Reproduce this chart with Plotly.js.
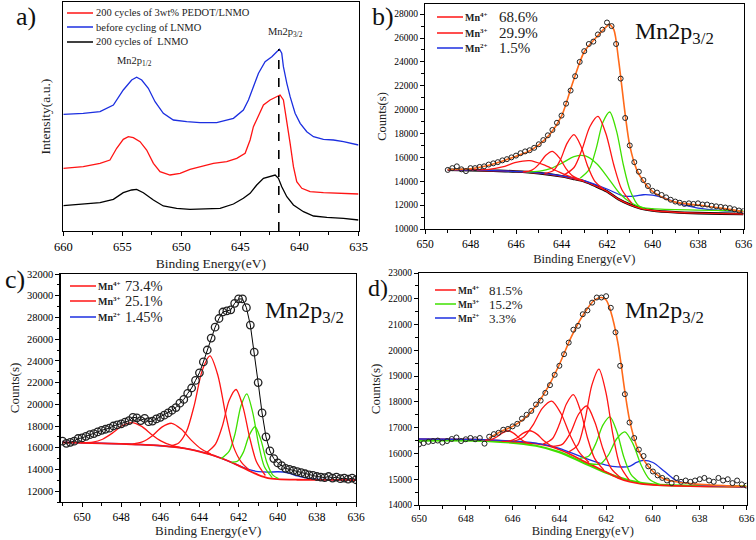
<!DOCTYPE html>
<html><head><meta charset="utf-8">
<script src="https://cdn.plot.ly/plotly-3.0.1.min.js"></script>
<style>body{margin:0;background:#fff}#chart{width:756px;height:540px}</style>
</head><body><div id="chart"></div>
<script>
// ---------- Panel a: survey of Mn2p region (arbitrary intensity) ----------
const aLegend = ["200 cycles of 3wt% PEDOT/LNMO", "before cycling of LNMO", "200 cycles of  LNMO"];
const aBlueE = [660,658.31,656.89,655.76,654.92,654.21,653.79,653.36,652.80,652.23,651.53,650.68,649.55,648.42,647.01,645.59,644.75,644.32,643.90,643.47,642.91,642.34,641.92,641.69,641.50,641.36,641.07,640.79,640.37,639.94,639.38,638.81,637.97,637.12,636.27,635.71,635.0];
const aBlueI = [115.7,116.7,118.3,125,140,150,152.7,150,141.7,128.3,116.7,110,108.3,107.3,107.3,111.7,120,130,143.3,156.7,168.3,173.3,178.3,180.7,176.7,163.3,146.7,133.3,116.7,106.7,98.3,93.3,90.7,90,88.3,86.7,85];
const aRedE = [660,658.31,656.89,656.05,655.48,654.92,654.49,654.07,653.50,652.94,652.37,651.81,650.96,650.11,649.27,648.42,647.29,646.16,645.31,644.60,644.18,643.90,643.47,643.05,642.49,641.92,641.64,641.36,641.07,640.79,640.51,640.23,639.80,639.10,637.97,636.84,635.99,635.0];
const aRedI = [61.7,63.3,66.7,70,81.7,90.7,93.3,92.3,88.3,80,66.7,58.3,55,56.7,60.7,63.3,66.7,68.3,71.7,76.7,90,103.3,115,125,130,133.3,135,130,110,86.7,63.3,48.3,41.7,38.3,37.3,36.7,36,36];
const aBlackE = [660,658.31,656.89,655.76,654.92,654.21,653.79,653.22,652.37,651.53,650.40,649.27,647.85,646.72,645.59,644.75,644.18,643.62,643.05,642.49,642.06,641.78,641.50,641.07,640.51,639.66,638.81,637.68,636.27,635.0];
const aBlackI = [24.3,26,27.3,30.7,37.3,40,40.7,37.3,30,24,21.7,20.7,21,21.7,26,31.7,36.7,45,51.7,54,55,51.7,43.3,33.3,25,18.3,14,12.7,11.7,10];
const aMarkerE = 641.75, aMarkerTop = 181;
const aPeakLabels = [{t:"Mn2p<sub>1/2</sub>", e:654.0, i:160}, {t:"Mn2p<sub>3/2</sub>", e:641.2, i:189}];

// ---------- Panel b ----------
const bLabels = ["Mn<sup>4+</sup>", "Mn<sup>3+</sup>", "Mn<sup>2+</sup>"];
const bPct = ["68.6%", "29.9%", "1.5%"];
const bEnergy = [649.0,648.8,648.6,648.4,648.2,648.0,647.8,647.6,647.4,647.2,647.0,646.8,646.6,646.4,646.2,646.0,645.8,645.6,645.4,645.2,645.0,644.8,644.6,644.4,644.2,644.0,643.8,643.6,643.4,643.2,643.0,642.8,642.6,642.4,642.2,642.0,641.8,641.6,641.4,641.2,641.0,640.8,640.6,640.4,640.2,640.0,639.8,639.6,639.4,639.2,639.0,638.8,638.6,638.4,638.2,638.0,637.8,637.6,637.4,637.2,637.0,636.8,636.6,636.4,636.2,636.0];
const bCounts = [14950,15100,15250,15000,14850,15100,15100,15200,15250,15400,15500,15600,15750,15850,16000,16150,16350,16500,16600,16800,17100,17450,17850,18300,18900,19500,20500,21600,22800,24000,24900,25500,25700,26300,26700,27300,27000,25500,22600,19300,17000,15600,14800,14100,13600,13200,13050,12850,12650,12450,12300,12200,12100,12150,12100,12150,12050,12050,11950,11900,11850,11800,11750,11650,11550,11500];
const bFitE = [649,648,647,646,645.5,645,644.5,644,643.5,643,642.5,642,641.9,641.7,641.5,641.2,641,640.7,640.4,640,639.5,639,638,637,636];
const bFitC = [14980,15050,15450,16100,16450,17050,17950,19450,22300,24850,26000,27000,27150,26700,24300,19600,17000,15000,14000,13150,12600,12250,12000,11750,11450];
const bBgE = [649,648,647,646,645,644,643.5,643,642.5,642,641.5,641,640.5,640,639,638,637,636];
const bBgC = [14970,14930,14880,14820,14680,14420,14220,13990,13600,13150,12500,12050,11720,11550,11400,11330,11290,11260];
const bMn2E = [649,647,645,644,643,642,641.3,640.8,640.4,640,639.5,639,638.5,638,637,636];
const bMn2C = [14970,14890,14700,14450,14050,13350,12780,12750,12870,12830,12600,12250,11950,11750,11550,11450];
const bRed1E = [648,647.2,646.6,646.0,645.4,644.8,644.2,643.6,643.0];
const bRed1C = [14960,14995,15200,15580,15720,15385,14860,14365,14020];
const bRed2E = [645.7,645.3,645.0,644.7,644.4,644.1,643.8,643.5,643.1];
const bRed2C = [14780,14930,15410,16150,16500,15975,15060,14430,14060];
const bRed3E = [644.75,644.35,644.05,643.75,643.45,643.15,642.85,642.55,642.15];
const bRed3C = [14650,14900,15790,17200,17900,16960,15260,14040,13330];
const bRed4E = [643.9,643.45,643.1,642.75,642.4,642.05,641.7,641.35,640.9];
const bRed4C = [14510,15150,16650,18590,19430,18000,15360,13310,12140];
const bGrn1E = [645.55,644.95,644.45,643.95,643.45,642.95,642.45,641.95,641.45,640.95,640.35];
const bGrn1C = [14790,14855,15080,15550,16060,16120,15460,14270,13000,12200,11730];
const bGrn2E = [643.18,642.78,642.48,642.18,641.88,641.58,641.28,640.98,640.58,640,638,636];
const bGrn2C = [14250,14990,16710,18940,19800,18200,15360,13210,11900,11700,11580,11520];

// ---------- Panel c ----------
const cPct = ["73.4%", "25.1%", "1.45%"];
const cEnergy = [651.0,650.8,650.6,650.4,650.2,650.0,649.8,649.6,649.4,649.2,649.0,648.8,648.6,648.4,648.2,648.0,647.8,647.6,647.4,647.2,647.0,646.8,646.6,646.4,646.2,646.0,645.8,645.6,645.4,645.2,645.0,644.8,644.6,644.4,644.2,644.0,643.8,643.6,643.4,643.2,643.0,642.8,642.6,642.4,642.2,642.0,641.8,641.6,641.4,641.2,641.0,640.8,640.6,640.4,640.2,640.0,639.8,639.6,639.4,639.2,639.0,638.8,638.6,638.4,638.2,638.0,637.8,637.6,637.4,637.2,637.0,636.8,636.6,636.4,636.2,636.0];
const cCounts = [16600,16400,16500,16600,16850,16900,17050,17200,17300,17450,17600,17700,17800,18000,18100,18200,18350,18500,18800,18750,18500,18700,18400,18450,18650,18800,19000,19200,19450,19700,20100,20450,21000,21500,22200,22900,23900,25000,26100,27100,27900,28500,28600,28700,29300,29700,29700,28900,27300,24800,22000,19200,17000,15700,15000,14600,14350,14100,14000,13900,13800,13700,13600,13500,13450,13350,13300,13250,13350,13200,13300,13150,13200,13100,13200,13050];
const cBgE = [651,650,649,648,647,646,645,644.5,644,643.5,643,642.5,642,641.5,641,640.5,640,639,638,637,636];
const cBgC = [16480,16450,16400,16350,16280,16200,16000,15850,15650,15400,15100,14750,14350,13900,13500,13200,13100,13050,13040,13030,13020];
const cMn2E = [651,649,647,645,644,643,642,641.5,641,640.5,640,639.5,639,638.5,638,637,636];
const cMn2C = [16500,16410,16290,16010,15660,15110,14360,14000,13800,13750,13780,13700,13400,13200,13100,13050,13030];
const cRed1E = [650.05,649.45,648.95,648.45,647.95,647.45,646.95,646.45,645.95,645.45,644.85];
const cRed1C = [16470,16510,16780,17345,18020,18320,17960,17225,16610,16230,15970];
const cRed2E = [647.42,646.92,646.42,645.92,645.42,644.92,644.42,643.92,643.42];
const cRed2C = [16340,16530,17080,17900,18250,17690,16700,15900,15410];
const cRed3E = [645.46,645.06,644.66,644.26,643.86,643.46,643.06,642.66,642.26,641.86,641.46];
const cRed3C = [16180,16440,17510,19950,23100,24450,22680,19070,16100,14670,13950];
const cRed4E = [643.63,643.18,642.83,642.48,642.13,641.78,641.43,641.08,640.63];
const cRed4C = [15550,16330,17990,20370,21360,19790,16910,14680,13440];
const cGrn1E = [642.88,642.48,642.18,641.88,641.58,641.28,640.98,640.68,640.28];
const cGrn1C = [15000,15680,17290,19840,20960,19260,16350,14250,13250];
const cGrn2E = [642.36,642.06,641.76,641.46,641.16,640.86,640.56,640.26,639.96];
const cGrn2C = [14670,14750,15570,17140,17930,16720,14660,13500,13150];

// ---------- Panel d ----------
const dPct = ["81.5%", "15.2%", "3.3%"];
const dEnergy = [650.0,649.8,649.6,649.4,649.2,649.0,648.8,648.6,648.4,648.2,648.0,647.8,647.6,647.4,647.2,647.0,646.8,646.6,646.4,646.2,646.0,645.8,645.6,645.4,645.2,645.0,644.8,644.6,644.4,644.2,644.0,643.8,643.6,643.4,643.2,643.0,642.8,642.6,642.4,642.2,642.0,641.8,641.6,641.4,641.2,641.0,640.8,640.6,640.4,640.2,640.0,639.8,639.6,639.4,639.2,639.0,638.8,638.6,638.4,638.2,638.0,637.8,637.6,637.4,637.2,637.0,636.8,636.6,636.4,636.2,636.0];
const dCounts = [16350,16400,16450,16480,16500,16420,16480,16560,16620,16480,16550,16600,16550,16600,16380,16650,16750,16800,16920,16950,17050,17150,17350,17500,17650,17900,18050,18350,18650,19050,19400,19850,20300,20800,20950,21400,21550,21850,22050,22050,22100,21650,20700,19400,18300,17200,16600,16150,15900,15500,15300,15150,15050,14950,14850,15050,14900,14950,14900,14950,15000,15050,14950,14900,15050,14950,15000,14850,14950,14800,14750];
const dFitE = [647,646.5,646,645.5,645,644.5,644,643.5,643,642.5,642.2,642,641.8,641.5,641.2,641,640.7,640.4,640,639.5,639,638,637,636];
const dFitC = [16600,16850,17050,17350,17850,18550,19450,20500,21350,21950,22050,21950,21500,20300,18400,17300,16300,15750,15300,15000,14900,14800,14750,14720];
const dBgE = [650,648,647,646,645,644.5,644,643.5,643,642.5,642,641.5,641,640.5,640,639,638,636];
const dBgC = [16560,16550,16520,16460,16380,16300,16150,15950,15720,15500,15280,15050,14900,14820,14780,14740,14720,14700];
const dGrnBgE = [650,647,645,644,643,642,641,640,638,636];
const dGrnBgC = [16500,16480,16300,16050,15650,15250,14950,14800,14740,14720];
const dMn2E = [650,647,645,644,643,642,641.5,641,640.7,640.4,640,639.5,639,638,636];
const dMn2C = [16560,16530,16400,16200,15850,15550,15480,15500,15650,15730,15650,15300,14950,14780,14700];
const dRed1E = [647.18,646.93,646.68,646.43,646.18,645.93,645.68,645.43,645.18];
const dRed1C = [16520,16540,16640,16800,16880,16770,16570,16430,16380];
const dRed2E = [646.46,646.16,645.86,645.56,645.26,644.96,644.66,644.36,644.06];
const dRed2C = [16470,16480,16580,16780,16880,16750,16490,16300,16175];
const dRed3E = [645.93,645.53,645.13,644.73,644.33,643.93,643.53,643.13,642.73];
const dRed3C = [16480,16640,17100,17750,18030,17550,16690,16020,15650];
const dRed4E = [644.7,644.3,644.0,643.7,643.4,643.1,642.8,642.5,642.1];
const dRed4C = [16360,16570,17130,17920,18280,17670,16610,15820,15360];
const dRed5E = [644.33,643.88,643.53,643.18,642.83,642.48,642.13,641.78,641.33];
const dRed5C = [16270,16350,16790,17520,17840,17210,16160,15410,15020];
const dRed6E = [643.61,643.21,642.91,642.61,642.31,642.01,641.71,641.41,641.01];
const dRed6C = [16050,16330,17270,18650,19270,18370,16730,15540,14960];
const dGrn1E = [643.14,642.74,642.44,642.14,641.84,641.54,641.24,640.94,640.54];
const dGrn1C = [15810,15900,16390,17100,17420,16840,15850,15190,14850];
const dGrn2E = [642.7,642.25,641.9,641.55,641.2,640.85,640.5,640.15,639.7];
const dGrn2C = [15600,15590,15940,16570,16840,16370,15540,15000,14790];

// ---------- styling ----------
const W = 756, H = 540;
const SERIF = "Liberation Serif";
const RED = "#ff1414", GRN = "#3fe000", BLU = "#1c2fe0", ORG = "#ff6a1a";
const px = v => v / W, py = v => 1 - v / H;

const traces = [];
function ln(x, y, color, w, ax, shape) {
  traces.push({type:"scatter", mode:"lines", x:x, y:y, xaxis:"x"+ax, yaxis:"y"+ax,
    line:{color:color, width:w, shape:shape||"spline", smoothing:0.8}, hoverinfo:"skip", showlegend:false});
}
function pts(x, y, ax, size, withLine) {
  traces.push({type:"scatter", mode: withLine ? "lines+markers" : "markers", x:x, y:y, xaxis:"x"+ax, yaxis:"y"+ax,
    line:{color:"#000", width:1}, marker:{symbol:"circle-open", size:size, color:"#222", line:{width:withLine?1.3:1, color:"#222"}},
    hoverinfo:"skip", showlegend:false});
}
// panel a
ln(aBlueE, aBlueI, BLU, 1.3, "", "linear");
ln(aRedE, aRedI, RED, 1.3, "", "linear");
ln(aBlackE, aBlackI, "#000", 1.3, "", "linear");
// panel b
ln(bBgE, bBgC, "#000", 2.6, "2");
ln(bBgE, bBgC, RED, 1.4, "2");
ln(bMn2E, bMn2C, BLU, 1.3, "2");
ln(bGrn1E, bGrn1C, GRN, 1.3, "2");
ln(bGrn2E, bGrn2C, GRN, 1.3, "2");
ln(bRed1E, bRed1C, RED, 1.3, "2");
ln(bRed2E, bRed2C, RED, 1.3, "2");
ln(bRed3E, bRed3C, RED, 1.3, "2");
ln(bRed4E, bRed4C, RED, 1.3, "2");
ln(bFitE, bFitC, ORG, 1.6, "2");
pts(bEnergy, bCounts, "2", 5, false);
// panel c
ln(cMn2E, cMn2C, BLU, 1.4, "3");
ln(cBgE, cBgC, RED, 1.8, "3");
ln(cGrn1E, cGrn1C, GRN, 1.3, "3");
ln(cGrn2E, cGrn2C, GRN, 1.3, "3");
ln(cRed1E, cRed1C, RED, 1.3, "3");
ln(cRed2E, cRed2C, RED, 1.3, "3");
ln(cRed3E, cRed3C, RED, 1.3, "3");
ln(cRed4E, cRed4C, RED, 1.3, "3");
pts(cEnergy, cCounts, "3", 7.5, true);
// panel d
ln(dGrnBgE, dGrnBgC, GRN, 2.2, "4");
ln(dBgE, dBgC, RED, 1.6, "4");
ln(dMn2E, dMn2C, BLU, 1.3, "4");
ln(dGrn1E, dGrn1C, GRN, 1.3, "4");
ln(dGrn2E, dGrn2C, GRN, 1.3, "4");
ln(dRed1E, dRed1C, RED, 1.3, "4");
ln(dRed2E, dRed2C, RED, 1.3, "4");
ln(dRed3E, dRed3C, RED, 1.3, "4");
ln(dRed4E, dRed4C, RED, 1.3, "4");
ln(dRed5E, dRed5C, RED, 1.3, "4");
ln(dRed6E, dRed6C, RED, 1.3, "4");
ln(dFitE, dFitC, ORG, 1.6, "4");
pts(dEnergy, dCounts, "4", 5, false);

function xAxis(dom, range, dtick, minor, anchor, fs, tfs, standoff) {
  return {domain:[px(dom[0]), px(dom[1])], range:range, autorange:false, anchor:anchor,
    tickmode:"linear", tick0:range[1], dtick:dtick, ticks:"outside", ticklen:3.5, tickwidth:1, tickcolor:"#000",
    tickformat:"d", exponentformat:"none",
    showline:true, linecolor:"#000", linewidth:1.2, mirror:true, showgrid:false, zeroline:false,
    tickfont:{family:SERIF, size:fs, color:"#000"},
    minor:{dtick:minor, ticks:"outside", ticklen:2.5, tickcolor:"#000", showgrid:false},
    title:{text:"Binding Energy(eV)", font:{family:SERIF, size:tfs, color:"#222"}, standoff:standoff}};
}
function yAxis(dom, range, dtick, minor, anchor, fs, title, tfs, standoff) {
  return {domain:[py(dom[1]), py(dom[0])], range:range, autorange:false, anchor:anchor,
    tickmode:"linear", tick0:0, dtick:dtick, ticks:"outside", ticklen:4, tickwidth:1, tickcolor:"#000",
    tickformat:"d", exponentformat:"none", separatethousands:false,
    showline:true, linecolor:"#000", linewidth:1.2, mirror:true, showgrid:false, zeroline:false,
    tickfont:{family:SERIF, size:fs, color:"#000"},
    minor:{dtick:minor, ticks:"outside", ticklen:2.5, tickcolor:"#000", showgrid:false},
    title:{text:title, font:{family:SERIF, size:tfs, color:"#222"}, standoff:standoff}};
}

const layout = {
  width:W, height:H, margin:{l:0, r:0, t:0, b:0}, paper_bgcolor:"#fff", plot_bgcolor:"#fff",
  showlegend:false, font:{family:SERIF, color:"#222"},
  xaxis: xAxis([63.3, 358.5], [660, 635], 5, 2.5, "y", 12.5, 13.5, 5),
  yaxis: Object.assign(yAxis([2, 231], [-1, 228], 50, 25, "x", 10, "Intensity(a.u.)", 13.5, 8),
           {showticklabels:false, ticks:"", minor:{ticks:""}}),
  xaxis2: xAxis([425, 743.5], [650, 636], 2, 1, "y2", 11.5, 12.5, 5),
  yaxis2: yAxis([4, 229], [10000, 28850], 2000, 1000, "x2", 9.5, "Counts(s)", 12.5, 4),
  xaxis3: xAxis([60.5, 356], [651.1, 636], 2, 1, "y3", 11.5, 13, 4),
  yaxis3: yAxis([274, 502], [11000, 32000], 2000, 1000, "x3", 10.5, "Counts(s)", 13, 4),
  xaxis4: xAxis([419, 746.5], [650, 636], 2, 1, "y4", 10.5, 12.5, 2),
  yaxis4: yAxis([273, 505], [14000, 23000], 1000, 500, "x4", 9.5, "Counts(s)", 13, 4),
  shapes: [], annotations: []
};

// dashed marker line in panel a
layout.shapes.push({type:"line", xref:"x", yref:"y", x0:aMarkerE, x1:aMarkerE, y0:-1, y1:aMarkerTop,
  line:{color:"#000", width:1.6, dash:"dash"}});
aPeakLabels.forEach(p => layout.annotations.push({xref:"x", yref:"y", x:p.e, y:p.i, text:p.t, showarrow:false,
  xanchor:"center", yanchor:"bottom", font:{family:SERIF, size:10.5, color:"#222"}}));

function legendRow(x0, x1, y, color, label, lx, pct, pxPos, lfs, bold, pfs) {
  layout.shapes.push({type:"line", xref:"paper", yref:"paper", x0:px(x0), x1:px(x1), y0:py(y), y1:py(y), line:{color:color, width:1.5}});
  layout.annotations.push({xref:"paper", yref:"paper", x:px(lx), y:py(y), text: bold ? "<b>"+label+"</b>" : label, showarrow:false,
    xanchor:"left", yanchor:"middle", font:{family:SERIF, size:lfs, color:"#222"}});
  if (pct) layout.annotations.push({xref:"paper", yref:"paper", x:px(pxPos), y:py(y), text:pct, showarrow:false,
    xanchor:"left", yanchor:"middle", font:{family:SERIF, size:pfs, color:"#222"}});
}
// panel a legend
[[RED,13],[BLU,27],["#000",42]].forEach((r,i) => legendRow(67, 93, r[1], r[0], aLegend[i], 94, null, 0, 10.5, false, 0));
// panel b legend
[[RED,17],[RED,33],[BLU,48]].forEach((r,i) => legendRow(437, 463, r[1], r[0], bLabels[i], 463, bPct[i], 497, 10, true, 15));
// panel c legend
[[RED,286],[RED,301],[BLU,317]].forEach((r,i) => legendRow(70, 96, r[1], r[0], bLabels[i], 96, cPct[i], 123, 10, true, 14.5));
// panel d legend
[[RED,290],[GRN,304],[BLU,318]].forEach((r,i) => legendRow(435, 456, r[1], r[0], bLabels[i], 456, dPct[i], 487, 9.5, true, 13));

// Mn2p3/2 labels and panel letters
[[633,33],[263,312],[623,312]].forEach(p => layout.annotations.push({xref:"paper", yref:"paper", x:px(p[0]), y:py(p[1]),
  text:"Mn2p<sub>3/2</sub>", showarrow:false, xanchor:"left", yanchor:"middle", font:{family:SERIF, size:24, color:"#111"}}));
[["a)",14,16,26],["b)",370,17,26],["c)",3,279,26],["d)",366,288,24]].forEach(p => layout.annotations.push({xref:"paper", yref:"paper",
  x:px(p[1]), y:py(p[2]), text:p[0], showarrow:false, xanchor:"left", yanchor:"middle", font:{family:SERIF, size:p[3], color:"#111"}}));

Plotly.newPlot("chart", traces, layout, {staticPlot:true, displayModeBar:false});
</script>
</body></html>
